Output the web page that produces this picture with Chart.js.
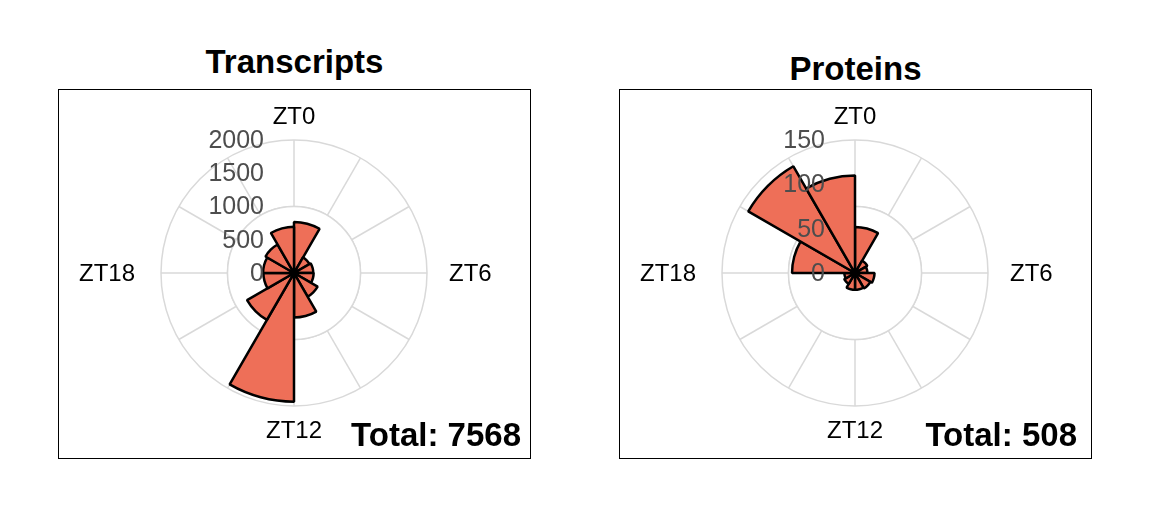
<!DOCTYPE html>
<html>
<head>
<meta charset="utf-8">
<script src="https://cdn.jsdelivr.net/npm/chart.js@4"></script>
<style>
  body { margin: 0; background: #fff; width: 1171px; height: 523px; position: relative; overflow: hidden;
         font-family: "Liberation Sans", Arial, sans-serif; }
  .title { position: absolute; width: 473px; text-align: center; font-weight: bold; font-size: 33px; line-height: 1; }
  .box { position: absolute; top: 89px; width: 473px; height: 370px; border: 1px solid #000; box-sizing: border-box; }
  .box canvas { position: absolute; left: 0; top: 0; }
  .total { position: absolute; bottom: 7px; font-weight: bold; font-size: 33px; line-height: 1; }
</style>
</head>
<body>
<div class="title" style="left:58px; top:45px;">Transcripts</div>
<div class="box" style="left:58px;"><canvas id="transcripts"></canvas><div class="total" style="right:9px;">Total: 7568</div></div>
<div class="title" style="left:619px; top:52px;">Proteins</div>
<div class="box" style="left:619px;"><canvas id="proteins"></canvas><div class="total" style="right:14px;">Total: 508</div></div>
<script>
// 2h bins round the clock, drawn clockwise from ZT0 at the top
const hours = ["ZT0", "ZT2", "ZT4", "ZT6", "ZT8", "ZT10", "ZT12", "ZT14", "ZT16", "ZT18", "ZT20", "ZT22"];
const axisLabels = ["ZT0", "ZT6", "ZT12", "ZT18"];

// counts per bin
const transcriptCounts = [768, 270, 290, 295, 410, 670, 1935, 815, 460, 465, 495, 695];
const proteinCounts = [52, 16, 14, 22, 20, 19, 19, 14, 12, 71, 139, 110];

// radial axis
const transcriptTicks = [0, 500, 1000, 1500, 2000];
const proteinTicks = [0, 50, 100, 150];
const transcriptRings = [1000, 2000];
const proteinRings = [75, 150];

const gridColor = "#d9d9d9";
const barColor = "#EE6F58";
const fontFamily = "'Liberation Sans', Arial, sans-serif";

// ggplot style: no spokes inside the inner ring, tick labels left of the axis, ZT labels on the quarter lines
const roseDecor = {
  id: "roseDecor",
  beforeDatasetsDraw(chart, args, opts) {
    const s = chart.scales.r;
    const ctx = chart.ctx;
    const r = s.getDistanceFromCenterForValue(opts.rings[0]);
    ctx.save();
    ctx.beginPath();
    ctx.arc(s.xCenter, s.yCenter, r, 0, Math.PI * 2);
    ctx.fillStyle = "#fff";
    ctx.fill();
    ctx.strokeStyle = gridColor;
    ctx.lineWidth = 1.5;
    ctx.stroke();
    ctx.restore();
  },
  afterDatasetsDraw(chart, args, opts) {
    const s = chart.scales.r;
    const ctx = chart.ctx;
    ctx.save();
    ctx.font = "25px " + fontFamily;
    ctx.fillStyle = "#4d4d4d";
    ctx.textAlign = "right";
    ctx.textBaseline = "middle";
    opts.ticks.forEach((v) => {
      ctx.fillText(String(v), s.xCenter - 30, s.yCenter - s.getDistanceFromCenterForValue(v) + 1);
    });
    ctx.font = "24px " + fontFamily;
    ctx.fillStyle = "#000";
    hours.forEach((h, i) => {
      if (!axisLabels.includes(h)) return;
      const p = s.getPointPosition(i, s.drawingArea + 24);
      const dx = p.x - s.xCenter;
      ctx.textAlign = dx > 5 ? "left" : dx < -5 ? "right" : "center";
      ctx.fillText(h, dx > 5 ? p.x - 2 : dx < -5 ? p.x - 2 : p.x, p.y + 1);
    });
    ctx.restore();
  },
};

function drawRose(id, counts, ticks, rings) {
  new Chart(document.getElementById(id), {
    type: "polarArea",
    data: {
      labels: hours,
      datasets: [
        {
          data: counts,
          backgroundColor: barColor,
          borderColor: "#000",
          borderWidth: 2.5,
        },
      ],
    },
    options: {
      responsive: true,
      maintainAspectRatio: false,
      animation: false,
      layout: { padding: { top: 50, bottom: 52, left: 0, right: 0 } },
      plugins: {
        legend: { display: false },
        tooltip: { enabled: false },
        roseDecor: { ticks: ticks, rings: rings },
      },
      scales: {
        r: {
          min: 0,
          max: rings[rings.length - 1],
          startAngle: 0,
          ticks: { display: false, stepSize: rings[0] },
          grid: { color: gridColor, lineWidth: 1.5, circular: true },
          angleLines: { display: true, color: gridColor, lineWidth: 1.5 },
          pointLabels: { display: false },
        },
      },
    },
    plugins: [roseDecor],
  });
}

drawRose("transcripts", transcriptCounts, transcriptTicks, transcriptRings);
drawRose("proteins", proteinCounts, proteinTicks, proteinRings);
</script>
</body>
</html>
